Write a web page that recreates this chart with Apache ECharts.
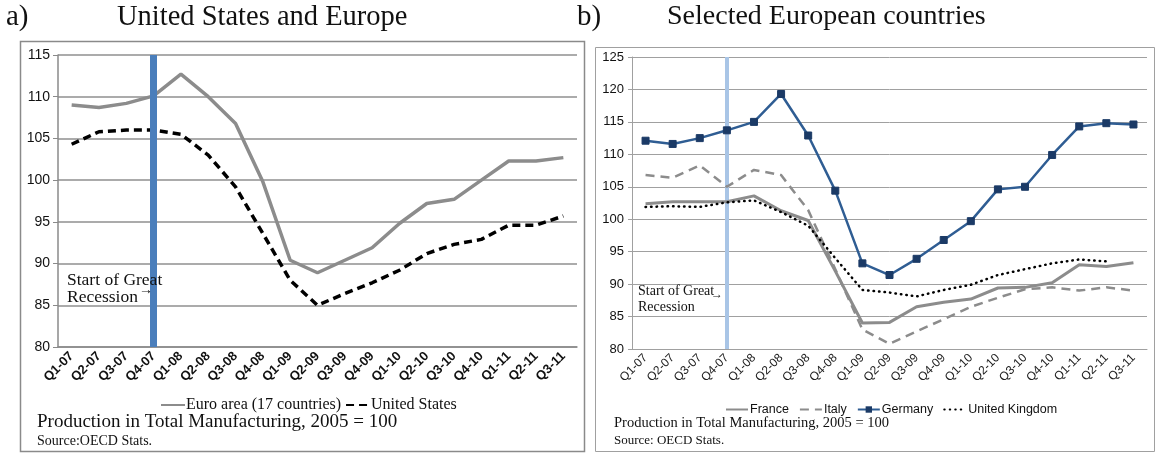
<!DOCTYPE html>
<html>
<head>
<meta charset="utf-8">
<script src="https://cdn.jsdelivr.net/npm/echarts@6/dist/echarts.min.js"></script>
<style>
  html, body { margin: 0; padding: 0; background: #fff; }
  #chart { width: 1158px; height: 454px; }
</style>
</head>
<body>
<div id="chart"></div>
<script>
// quarters on both x axes
const quarters = ['Q1-07','Q2-07','Q3-07','Q4-07','Q1-08','Q2-08','Q3-08','Q4-08','Q1-09','Q2-09',
  'Q3-09','Q4-09','Q1-10','Q2-10','Q3-10','Q4-10','Q1-11','Q2-11','Q3-11'];

// panel a
const euroArea = [109.0,108.7,109.2,110.1,112.7,110.0,106.8,99.8,90.4,88.9,90.4,91.9,94.8,97.2,97.7,100.0,102.3,102.3,102.7];
const unitedStates = [104.3,105.8,106.0,106.0,105.5,103.0,99.2,93.6,88.0,85.0,86.4,87.7,89.2,91.2,92.3,92.9,94.6,94.6,95.7];

// panel b
const france = [102.4,102.7,102.7,102.7,103.6,101.3,99.8,92.0,84.0,84.1,86.5,87.2,87.7,89.4,89.5,90.2,93.0,92.7,93.3];
const italy = [106.8,106.4,108.3,105.0,107.6,106.8,101.4,92.3,83.0,80.8,82.7,84.6,86.5,87.9,89.2,89.5,89.0,89.5,89.0];
const germany = [112.1,111.6,112.5,113.7,115.0,119.3,112.9,104.4,93.2,91.4,93.9,96.8,99.7,104.6,105.0,109.9,114.3,114.8,114.6];
const unitedKingdom = [101.9,102.0,101.9,102.6,102.9,101.1,99.0,94.0,89.1,88.7,88.1,89.1,89.9,91.4,92.3,93.2,93.8,93.5,null];

const recessionStart = 'Q4-07';

const serif = '"Liberation Serif", "Times New Roman", serif';
const sans = '"Liberation Sans", Arial, sans-serif';

const chart = echarts.init(document.getElementById('chart'));

function txt(x, y, text, size) {
  return {
    type: 'text', left: x, top: y, silent: true, z: 100,
    style: { text: text, font: size + 'px ' + serif, fill: '#111' }
  };
}

// legend entry whose marker is hidden, so only the line shows
function lineOnly(name) {
  return { name: name, itemStyle: { opacity: 0 } };
}

const option = {
  animation: false,
  backgroundColor: '#fff',
  grid: [
    { left: 58, right: 581, top: 55, bottom: 107 },
    { left: 632, right: 11, top: 57, bottom: 105 }
  ],
  xAxis: [
    {
      gridIndex: 0, type: 'category', data: quarters, boundaryGap: true,
      axisLine: { lineStyle: { color: '#8a8a8a', width: 1.5 } },
      axisTick: { length: 5, lineStyle: { color: '#8a8a8a' } },
      axisLabel: { rotate: 45, margin: 7, fontFamily: sans, fontSize: 13, fontWeight: 'bold', color: '#111' }
    },
    {
      gridIndex: 1, type: 'category', data: quarters, boundaryGap: true,
      axisLine: { lineStyle: { color: '#a0a0a0' } },
      axisTick: { length: 4, lineStyle: { color: '#a0a0a0' } },
      axisLabel: { rotate: 45, margin: 7, fontFamily: sans, fontSize: 12, color: '#222' }
    }
  ],
  yAxis: [
    {
      gridIndex: 0, type: 'value', min: 80, max: 115, interval: 5,
      axisLine: { show: true, lineStyle: { color: '#8a8a8a', width: 1.5 } },
      axisTick: { show: true, length: 5, lineStyle: { color: '#8a8a8a' } },
      axisLabel: { fontFamily: sans, fontSize: 14, color: '#111', margin: 8 },
      splitLine: { lineStyle: { color: '#8f8f8f', width: 1.5 } }
    },
    {
      gridIndex: 1, type: 'value', min: 80, max: 125, interval: 5,
      axisLine: { show: true, lineStyle: { color: '#a0a0a0' } },
      axisTick: { show: true, length: 4, lineStyle: { color: '#a0a0a0' } },
      axisLabel: { fontFamily: sans, fontSize: 13, color: '#111', margin: 8 },
      splitLine: { lineStyle: { color: '#a0a0a0', width: 1 } }
    }
  ],
  legend: [
    {
      data: [lineOnly('Euro area (17 countries)'), lineOnly('United States')],
      left: 155, top: 392, itemWidth: 24, itemHeight: 10, itemGap: 4,
      textStyle: { fontFamily: serif, fontSize: 16, color: '#111', padding: [0, 0, 0, -4] }
    },
    {
      data: [lineOnly('France'), lineOnly('Italy'), 'Germany', lineOnly('United Kingdom')],
      left: 720, top: 398, itemWidth: 22, itemHeight: 8, itemGap: 10,
      textStyle: { fontFamily: sans, fontSize: 12.5, color: '#111', padding: [0, 0, 0, -3] }
    }
  ],
  series: [
    {
      name: 'Euro area (17 countries)', type: 'line', xAxisIndex: 0, yAxisIndex: 0,
      data: euroArea, symbol: 'none', z: 3,
      lineStyle: { color: '#8c8c8c', width: 3.5 }, itemStyle: { color: '#8c8c8c' },
      markLine: {
        silent: true, symbol: 'none', label: { show: false }, z: 5,
        lineStyle: { color: '#4a7ebb', width: 7, type: 'solid' },
        data: [{ xAxis: recessionStart }]
      }
    },
    {
      name: 'United States', type: 'line', xAxisIndex: 0, yAxisIndex: 0,
      data: unitedStates, symbol: 'none', z: 3,
      lineStyle: { color: '#000', width: 3.5, type: [8, 5] }, itemStyle: { color: '#000' }
    },
    {
      name: 'France', type: 'line', xAxisIndex: 1, yAxisIndex: 1,
      data: france, symbol: 'none',
      lineStyle: { color: '#8c8c8c', width: 3 }, itemStyle: { color: '#8c8c8c' },
      markLine: {
        silent: true, symbol: 'none', label: { show: false }, z: 1,
        lineStyle: { color: '#a9c5e6', width: 4, type: 'solid' },
        data: [{ xAxis: recessionStart }]
      }
    },
    {
      name: 'Italy', type: 'line', xAxisIndex: 1, yAxisIndex: 1,
      data: italy, symbol: 'none',
      lineStyle: { color: '#8c8c8c', width: 2.5, type: [9, 6] }, itemStyle: { color: '#8c8c8c' }
    },
    {
      name: 'Germany', type: 'line', xAxisIndex: 1, yAxisIndex: 1,
      data: germany, symbol: 'rect', symbolSize: 7,
      lineStyle: { color: '#2f5d93', width: 2.5 }, itemStyle: { color: '#1b3a66', borderColor: '#1b3a66' }
    },
    {
      name: 'United Kingdom', type: 'line', xAxisIndex: 1, yAxisIndex: 1,
      data: unitedKingdom, symbol: 'none',
      lineStyle: { color: '#000', width: 2.5, type: [0.5, 5], cap: 'round' }, itemStyle: { color: '#000' }
    }
  ],
  graphic: [
    { type: 'rect', silent: true, z: -1, shape: { x: 20.5, y: 41.5, width: 564, height: 410 },
      style: { fill: 'none', stroke: '#8a8a8a', lineWidth: 1.5 } },
    { type: 'rect', silent: true, z: -1, shape: { x: 595.5, y: 47.5, width: 559, height: 404 },
      style: { fill: 'none', stroke: '#a0a0a0', lineWidth: 1 } },
    txt(6, 3, 'a)', 29),
    txt(117, 3, 'United States and Europe', 28.5),
    txt(577, 3, 'b)', 29),
    txt(667, 3, 'Selected European countries', 28),
    txt(67, 271, 'Start of Great', 17.5),
    txt(67, 288, 'Recession', 17.5),
    txt(139, 283, '\u2192', 14),
    txt(638, 284, 'Start of Great', 14),
    txt(638, 300, 'Recession', 14),
    txt(711, 289, '\u2192', 12),
    txt(37, 413, 'Production in Total Manufacturing, 2005 = 100', 19),
    txt(37, 434, 'Source:OECD Stats.', 14),
    txt(614, 416, 'Production in Total Manufacturing, 2005 = 100', 14.5),
    txt(614, 434, 'Source: OECD Stats.', 13)
  ]
};

chart.setOption(option);
window.addEventListener('resize', function () { chart.resize(); });
</script>
</body>
</html>
